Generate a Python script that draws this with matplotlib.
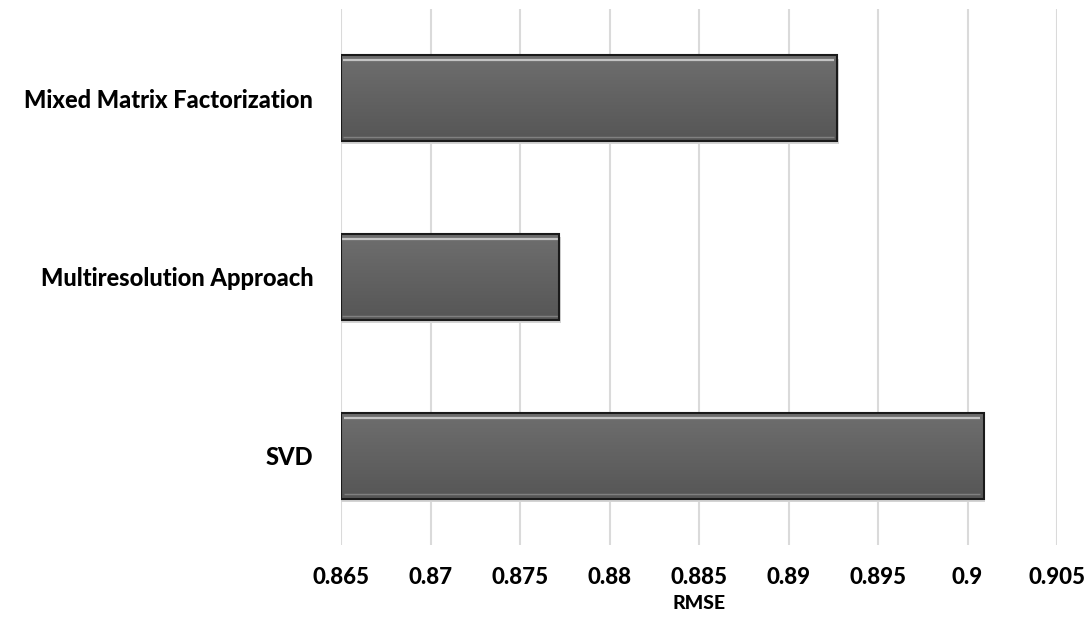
import numpy as np
import matplotlib
matplotlib.use("Agg")
import matplotlib.pyplot as plt

methods = ["SVD", "Multiresolution Approach", "Mixed Matrix Factorization"]
rmse = [0.9009, 0.8772, 0.8927]
x_ticks = [0.865, 0.87, 0.875, 0.88, 0.885, 0.89, 0.895, 0.9, 0.905]
x_tick_labels = ["0.865", "0.87", "0.875", "0.88", "0.885", "0.89", "0.895", "0.9", "0.905"]

plt.rcParams["font.family"] = ["Lato", "DejaVu Sans"]

fig = plt.figure(figsize=(10.9, 6.17), dpi=100)
ax = fig.add_axes([341 / 1090, 1 - 545 / 617, (1057 - 341) / 1090, (545 - 9) / 617])

base = x_ticks[0]
height = 0.48
pos = np.arange(len(methods))
widths = np.array(rmse) - base

# soft shadow behind each bar, offset down and right
ax.barh(pos - 0.018, widths + 0.0001, left=base, height=height,
        color="#d4d4d4", edgecolor="none", zorder=2)

bars = ax.barh(pos, widths, left=base, height=height,
               color="#626262", edgecolor="none", zorder=3)

cmap = matplotlib.colors.LinearSegmentedColormap.from_list("g", ["#6e6e6e", "#565656"])
grad = np.linspace(0, 1, 64).reshape(-1, 1)
for b in bars:
    x0, y0 = b.get_x(), b.get_y()
    w, h = b.get_width(), b.get_height()
    # vertical gradient, lighter on top
    im = ax.imshow(grad, cmap=cmap, aspect="auto", origin="upper",
                   extent=[x0, x0 + w, y0, y0 + h], zorder=3.5)
    im.set_clip_path(b)
    # bevel highlights
    ax.plot([x0 + w * 0.004, x0 + w - w * 0.006], [y0 + h * 0.945, y0 + h * 0.945],
            color="#c4c4c4", linewidth=1.6, zorder=4, solid_capstyle="butt")
    ax.plot([x0 + w * 0.004, x0 + w - w * 0.006], [y0 + h * 0.05, y0 + h * 0.05],
            color="#808080", linewidth=1.0, zorder=4, solid_capstyle="butt")
    ax.add_patch(plt.Rectangle((x0, y0), w, h, fill=False, edgecolor="#1a1a1a",
                               linewidth=1.5, zorder=5))

ax.set_xlim(x_ticks[0], x_ticks[-1])
ax.set_ylim(-0.5, len(methods) - 0.5)
ax.set_xticks(x_ticks)
ax.set_xticklabels(x_tick_labels, fontsize=16, fontweight="black")
ax.set_yticks(pos)
ax.set_yticklabels(methods, fontsize=17, fontweight="black")
ax.tick_params(axis="both", length=0)
ax.tick_params(axis="x", pad=16)
ax.tick_params(axis="y", pad=20)
ax.grid(axis="x", color="#dadada", linewidth=1.5, zorder=0)
ax.set_axisbelow(True)
for s in ax.spines.values():
    s.set_visible(False)
ax.set_xlabel("RMSE", fontsize=14, fontweight="black", labelpad=5)

fig.savefig("out.png", dpi=100, facecolor="white")
